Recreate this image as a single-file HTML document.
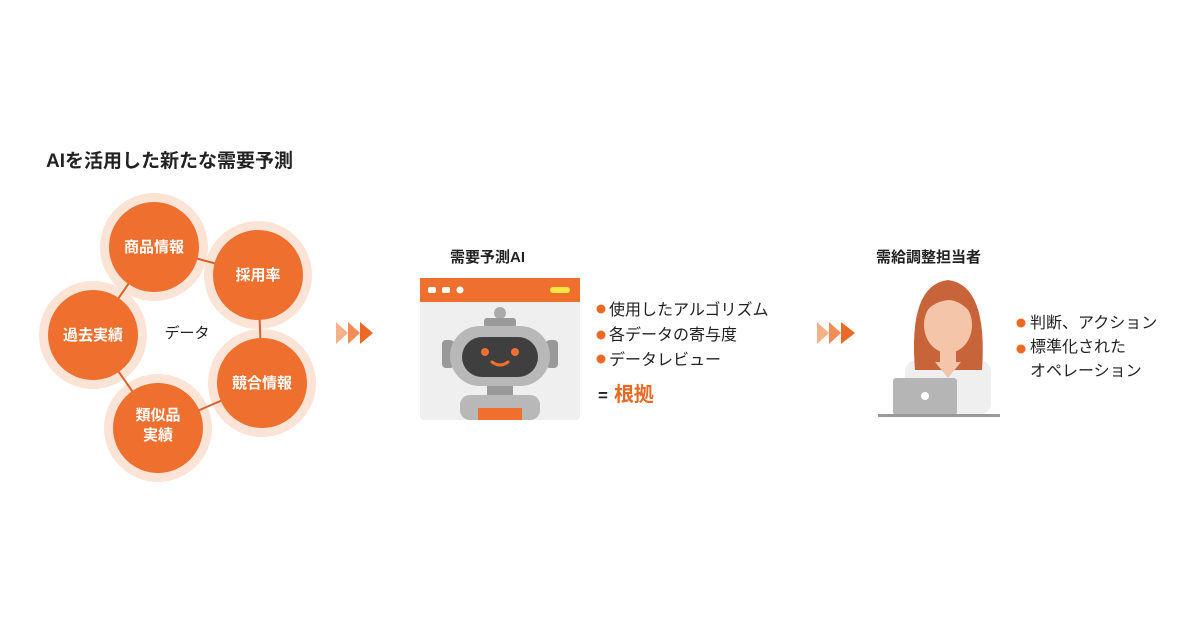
<!DOCTYPE html>
<html><head><meta charset="utf-8"><style>
body{margin:0;width:1200px;height:630px;background:#fff;overflow:hidden;font-family:"Liberation Sans","Noto Sans CJK JP",sans-serif;color:#222}
.t{position:absolute;white-space:nowrap}
</style></head><body>
<div class="t" style="left:46px;top:146px;font-size:19px;font-weight:bold;">AIを活用した新たな需要予測</div>
<svg width="1200" height="630" style="position:absolute;left:0;top:0">
<g fill="#fbe3d6">
<circle cx="154" cy="247" r="54"/><circle cx="258" cy="275" r="54"/><circle cx="93" cy="335" r="54"/><circle cx="262" cy="383" r="54"/><circle cx="158" cy="428" r="54"/>
</g>
<g stroke="#d9622a" stroke-width="2">
<line x1="154" y1="247" x2="258" y2="275"/><line x1="258" y1="275" x2="262" y2="383"/>
<line x1="262" y1="383" x2="158" y2="428"/><line x1="158" y1="428" x2="93" y2="335"/><line x1="93" y1="335" x2="154" y2="247"/>
</g>
<g fill="#ef6f2e">
<circle cx="154" cy="247" r="45"/><circle cx="258" cy="275" r="45"/><circle cx="93" cy="335" r="45"/><circle cx="262" cy="383" r="45"/><circle cx="158" cy="428" r="45"/>
</g>
<g font-size="15" font-weight="bold" fill="#fff" text-anchor="middle" font-family="Liberation Sans,Noto Sans CJK JP,sans-serif">
<text x="154" y="252">商品情報</text><text x="258" y="280">採用率</text><text x="93" y="340">過去実績</text><text x="262" y="388">競合情報</text><text x="158" y="420">類似品</text><text x="158" y="440">実績</text>
</g>
<text x="187" y="338" font-size="15" text-anchor="middle" fill="#222" font-family="Liberation Sans,Noto Sans CJK JP,sans-serif">データ</text>
<g><polygon points="336,322 348,333 336,344" fill="#f6b08a"/><polygon points="348,322 360,333 348,344" fill="#f38c57"/><polygon points="360,322 373,333 360,344" fill="#ea6a25"/></g>
<g><polygon points="817,322 829,333 817,344" fill="#f6b08a"/><polygon points="829,322 841,333 829,344" fill="#f38c57"/><polygon points="841,322 855,333 841,344" fill="#ea6a25"/></g>
<rect x="420" y="278" width="160" height="142" rx="4" fill="#efefef"/>
<rect x="420" y="278" width="160" height="24" fill="#ef6f2e"/>
<rect x="428" y="287" width="8" height="6" rx="2" fill="#fff"/><rect x="442" y="287" width="8" height="6" rx="2" fill="#fff"/><circle cx="460" cy="290" r="3.5" fill="#fff"/>
<rect x="550" y="287" width="20" height="6" rx="3" fill="#f5e642"/>
<circle cx="500" cy="313" r="6" fill="#aaa"/><rect x="484" y="318" width="32" height="10" rx="3" fill="#999"/>
<rect x="442" y="340" width="12" height="28" rx="4" fill="#999"/><rect x="546" y="340" width="12" height="28" rx="4" fill="#999"/>
<rect x="450" y="326" width="100" height="60" rx="30" fill="#b8b8b8"/>
<rect x="462" y="337" width="76" height="40" rx="20" fill="#3f3f3f"/>
<circle cx="485" cy="352" r="4" fill="#ef6f2e"/><circle cx="515" cy="352" r="4" fill="#ef6f2e"/>
<path d="M492 362 Q500 368 508 362" stroke="#ef6f2e" stroke-width="3" fill="none" stroke-linecap="round"/>
<rect x="487" y="386" width="26" height="10" fill="#999"/>
<rect x="460" y="395" width="80" height="25" rx="10" fill="#b8b8b8"/>
<rect x="478" y="408" width="44" height="12" fill="#ef6f2e"/>
<rect x="905" y="360" width="86" height="55" rx="12" fill="#efefef"/>
<path d="M915 370 Q908 285 948 280 Q988 285 982 370 Z" fill="#c8643a"/>
<rect x="940" y="345" width="16" height="20" fill="#f4c5a8"/>
<ellipse cx="948" cy="325" rx="24" ry="28" fill="#f4c5a8"/>
<path d="M922 318 Q926 290 948 290 Q972 290 975 318 Q962 300 948 300 Q930 302 922 318Z" fill="#c8643a"/>
<polygon points="935,362 961,362 948,378" fill="#f4c5a8"/>
<rect x="893" y="378" width="64" height="37" rx="3" fill="#b5b5b5"/>
<circle cx="925" cy="396" r="4" fill="#fff"/>
<rect x="878" y="414" width="122" height="3" fill="#999"/>
<g fill="#ea6a25"><circle cx="601" cy="309" r="4.5"/><circle cx="601" cy="335" r="4.5"/><circle cx="601" cy="359" r="4.5"/><circle cx="1021" cy="323" r="4.5"/><circle cx="1021" cy="349" r="4.5"/></g>
</svg>
<div class="t" style="left:450px;top:246px;font-size:15px;font-weight:bold;">需要予測AI</div>
<div class="t" style="left:609px;top:298px;font-size:16px;line-height:25px;">使用したアルゴリズム<br>各データの寄与度<br>データレビュー</div>
<div class="t" style="left:598px;top:378px;font-size:17px;font-weight:bold;">=<span style="color:#ea6a25;font-size:20px;margin-left:6px">根拠</span></div>
<div class="t" style="left:876px;top:246px;font-size:15px;font-weight:bold;">需給調整担当者</div>
<div class="t" style="left:1030px;top:312px;font-size:16px;line-height:24px;">判断、アクション<br>標準化された<br>オペレーション</div>
</body></html>
